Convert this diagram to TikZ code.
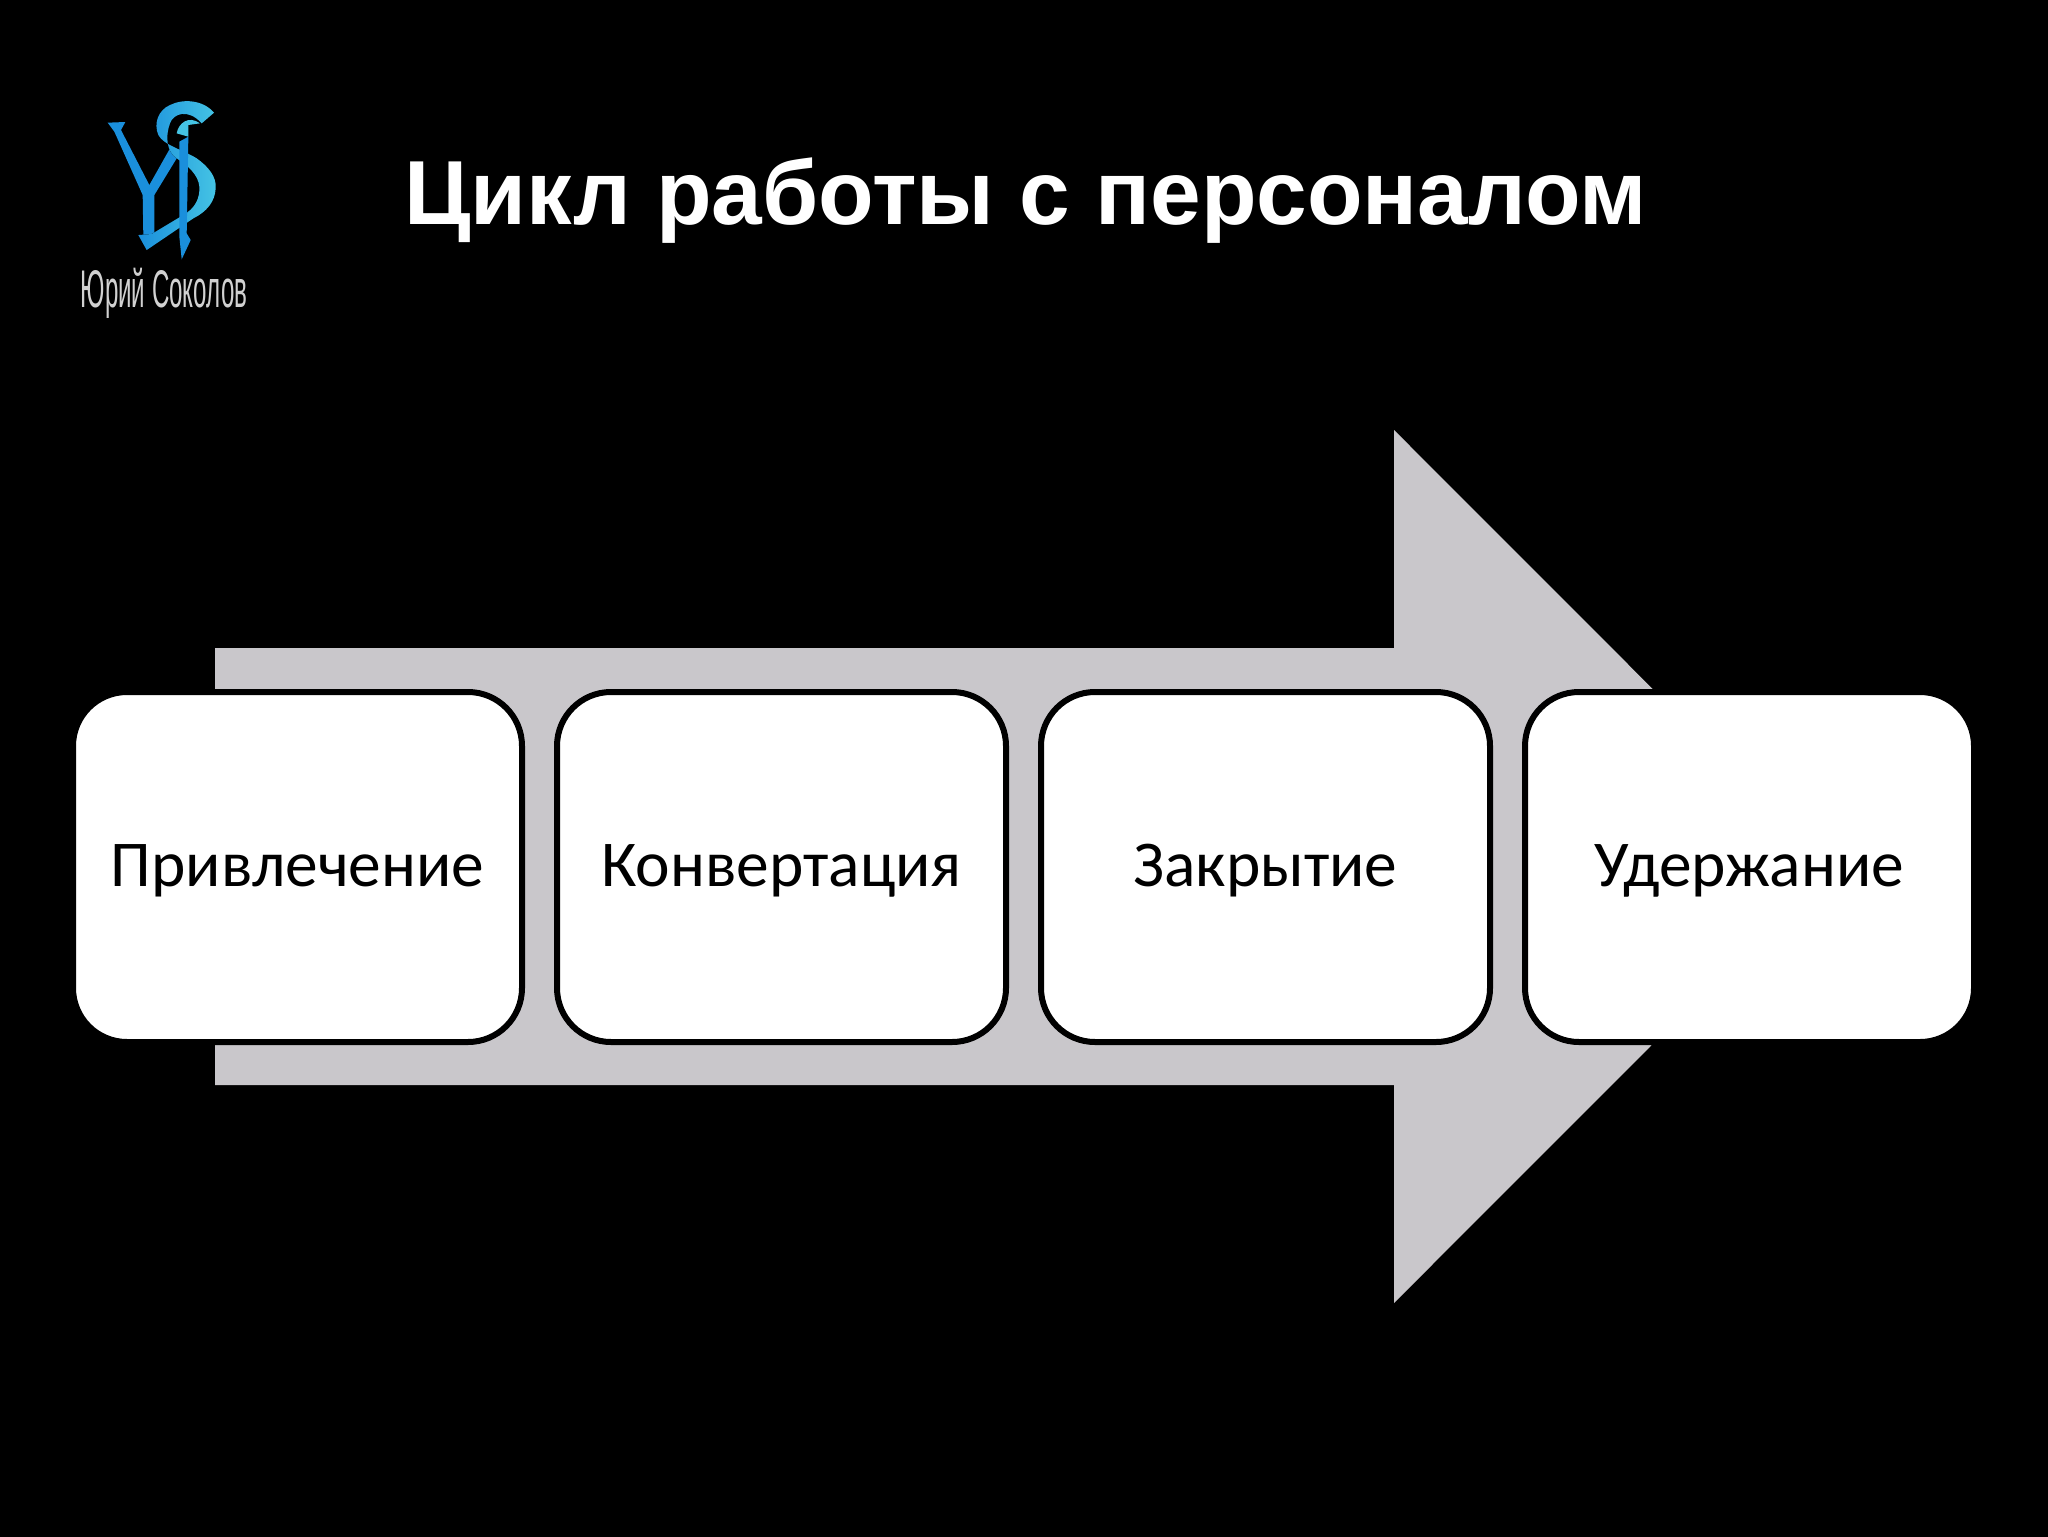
\documentclass[tikz,border=0pt]{standalone}
\usepackage{fontspec}
\setmainfont{Carlito}
\newfontfamily\headfont{Liberation Sans}
\definecolor{arrowgrey}{HTML}{C9C7CB}
\definecolor{logoblue}{HTML}{1A8FDC}
\definecolor{logolight}{HTML}{45C4E4}
\tikzset{
    stagebox/.style={draw=black, fill=white, line width=3pt, rounded corners=27pt,
        minimum width=224.5pt, minimum height=175pt, inner sep=0pt,
        text height=25pt, text depth=6pt,
        font=\fontsize{32.7}{36}\selectfont, text=black},
    logopart/.style={left color=logoblue, right color=logolight, draw=none}
}
\begin{document}
\begin{tikzpicture}[x=0.5pt, y=-0.5pt]
    \useasboundingbox (0,0) rectangle (2048,1536);
    \fill[black] (-10,-10) rectangle (2058,1546);
    \fill[arrowgrey] (215,648) -- (1394,648) -- (1394,430) -- (1830,866.5) -- (1394,1303) -- (1394,1085) -- (215,1085) -- cycle;
    \node[stagebox] (attract) at (297.5,867) {Привлечение};
    \node[stagebox] (convert) at (781.5,867) {Конвертация};
    \node[stagebox] (close) at (1265.5,867) {Закрытие};
    \node[stagebox] (retain) at (1749.5,867) {Удержание};
    \node[anchor=base, text=white, font=\headfont\bfseries\fontsize{45.5}{50}\selectfont] (title) at (1025.5,224) {Цикл работы с персоналом};
    % logo
    \begin{scope}[shift={(60,80)}, x=0.1667pt, y=-0.1667pt]
        \fill[logoblue] (143,128) -- (196,126) -- (183,150) -- (268,315) -- (330,205) -- (358,222) -- (283,345) -- (283,460) -- (250,470) -- (248,345) -- (163,155) -- cycle;
        \fill[logopart] (462,98) .. controls (430,60) and (370,55) .. (330,75) .. controls (295,90) and (280,130) .. (295,165) .. controls (310,195) and (370,210) .. (410,235) .. controls (445,260) and (470,290) .. (467,325) .. controls (465,365) and (440,395) .. (400,415) -- (260,510) -- (235,465) -- (275,462) -- (370,405) .. controls (405,385) and (420,355) .. (418,320) .. controls (415,285) and (385,258) .. (350,235) .. controls (320,215) and (315,170) .. (330,130) .. controls (340,100) and (385,85) .. (425,130) -- cycle;
        \fill[logoblue] (358,185) -- (385,170) -- (380,460) -- (392,480) -- (365,538) -- (358,470) -- cycle;
        \fill[logolight] (350,160) .. controls (355,130) and (385,105) .. (420,130) -- (385,135) -- (385,170) -- cycle;
    \end{scope}
    \node[anchor=base, text=white!82!black, xscale=0.455, font=\headfont\fontsize{26.5}{30}\selectfont, inner sep=0pt] (logoname) at (164,307) {Юрий Соколов};
\end{tikzpicture}
\end{document}
